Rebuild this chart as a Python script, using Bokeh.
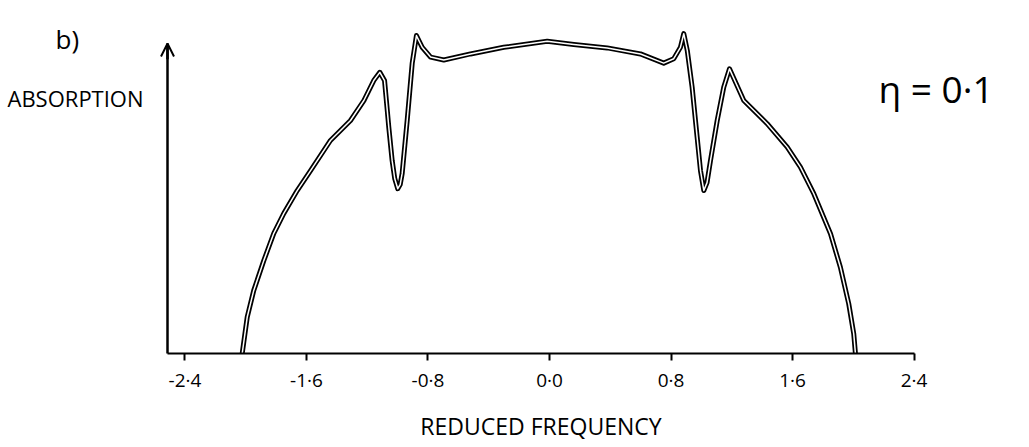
from bokeh.plotting import figure
from bokeh.models import FixedTicker, Label, Arrow, OpenHead, Range1d
from bokeh.embed import file_html
from bokeh.resources import INLINE

# Reduced frequency (x) and absorption (arbitrary units, y)
freq = [-2.023, -1.990, -1.947, -1.881, -1.815, -1.749, -1.661, -1.573, -1.442,
        -1.310, -1.222, -1.157, -1.117, -1.086, -1.068, -1.058, -1.036, -1.019,
        -0.999, -0.983, -0.970, -0.937, -0.904, -0.876, -0.838, -0.783, -0.696,
        -0.520, -0.301, -0.015, 0.160, 0.380, 0.599, 0.752, 0.818, 0.862, 0.884,
        0.907, 0.939, 0.972, 0.994, 1.016, 1.037, 1.060, 1.104, 1.147, 1.185,
        1.279, 1.433, 1.565, 1.652, 1.740, 1.850, 1.915, 1.970, 2.003, 2.014]
absorption = [0.000, 0.115, 0.199, 0.293, 0.379, 0.442, 0.514, 0.577, 0.672,
              0.735, 0.798, 0.861, 0.887, 0.861, 0.767, 0.714, 0.609, 0.552,
              0.520, 0.533, 0.568, 0.735, 0.915, 1.003, 0.966, 0.935, 0.926,
              0.945, 0.966, 0.985, 0.975, 0.964, 0.945, 0.916, 0.930, 0.966, 1.009,
              0.956, 0.840, 0.682, 0.577, 0.514, 0.539, 0.609, 0.735, 0.840, 0.898,
              0.798, 0.725, 0.651, 0.588, 0.504, 0.378, 0.272, 0.157, 0.062, 0.000]

tick_values = [-2.4, -1.6, -0.8, 0.0, 0.8, 1.6, 2.4]
tick_labels = ["-2·4", "-1·6", "-0·8", "0·0", "0·8", "1·6", "2·4"]

W, H = 1024, 444
SX, CX = 151.9, 549.0   # px per unit, pixel of x=0
SY, CY = 317.0, 353.0   # px per unit, pixel of y=0


def X(px):
    return (px - CX) / SX


def Y(py):
    return (CY - py) / SY


X0, X1 = X(167), 2.4
YTOP = Y(43)

p = figure(width=W, height=H,
           x_range=Range1d(X(0), X(W)), y_range=Range1d(Y(H), Y(0)),
           output_backend="svg", toolbar_location=None,
           min_border=0, min_border_left=0, min_border_right=0,
           min_border_top=0, min_border_bottom=0)
p.background_fill_color = "white"
p.border_fill_color = "white"
p.outline_line_color = None
p.grid.visible = False

FONT = "Open Sans"

# x axis, drawn at y = 0 and limited to the sketch's extent
xa = p.xaxis[0]
xa.fixed_location = 0
xa.bounds = (X0, X1)
xa.ticker = FixedTicker(ticks=tick_values)
xa.major_label_overrides = {v: s for v, s in zip(tick_values, tick_labels)}
xa.minor_tick_line_color = None
xa.major_tick_in = 0
xa.major_tick_out = 7
xa.major_tick_line_width = 2
xa.axis_line_width = 2
xa.axis_line_color = "black"
xa.major_label_text_font = FONT
xa.major_label_text_font_size = "19px"
xa.major_label_text_color = "black"
xa.major_label_standoff = 6
xa.axis_label = "REDUCED FREQUENCY"
xa.axis_label_text_font = FONT
xa.axis_label_text_font_style = "normal"
xa.axis_label_text_font_size = "23px"
xa.axis_label_text_color = "black"
xa.axis_label_standoff = 14

# y axis: plain line with an arrow head, no ticks
ya = p.yaxis[0]
ya.fixed_location = X0
ya.bounds = (0, YTOP)
ya.ticker = FixedTicker(ticks=[])
ya.major_tick_line_color = None
ya.minor_tick_line_color = None
ya.major_label_text_font_size = "0px"
ya.axis_line_width = 2.5
ya.axis_line_color = "black"

p.add_layout(Arrow(end=OpenHead(size=13, line_width=2, line_color="black"),
                   x_start=X0, y_start=YTOP - 0.05, x_end=X0, y_end=YTOP,
                   line_width=2.5, line_color="black"))

# hand-drawn double stroke look
p.line(freq, absorption, line_color="black", line_width=5, line_join="round")
p.line(freq, absorption, line_color="white", line_width=1.5, line_join="round")

# texts
p.add_layout(Label(x=X(55), y=Y(38), text="b)", text_font=FONT,
                   text_font_size="26px", text_color="black",
                   text_baseline="alphabetic", text_align="left"))
p.add_layout(Label(x=X(7), y=Y(97), text="ABSORPTION", text_font=FONT,
                   text_font_size="22px", text_color="black",
                   text_baseline="alphabetic", text_align="left"))
p.add_layout(Label(x=X(878), y=Y(88), text="η = 0·1", text_font=FONT,
                   text_font_size="37px", text_color="black",
                   text_baseline="alphabetic", text_align="left"))

open("out.html", "w").write(file_html(p, INLINE))
